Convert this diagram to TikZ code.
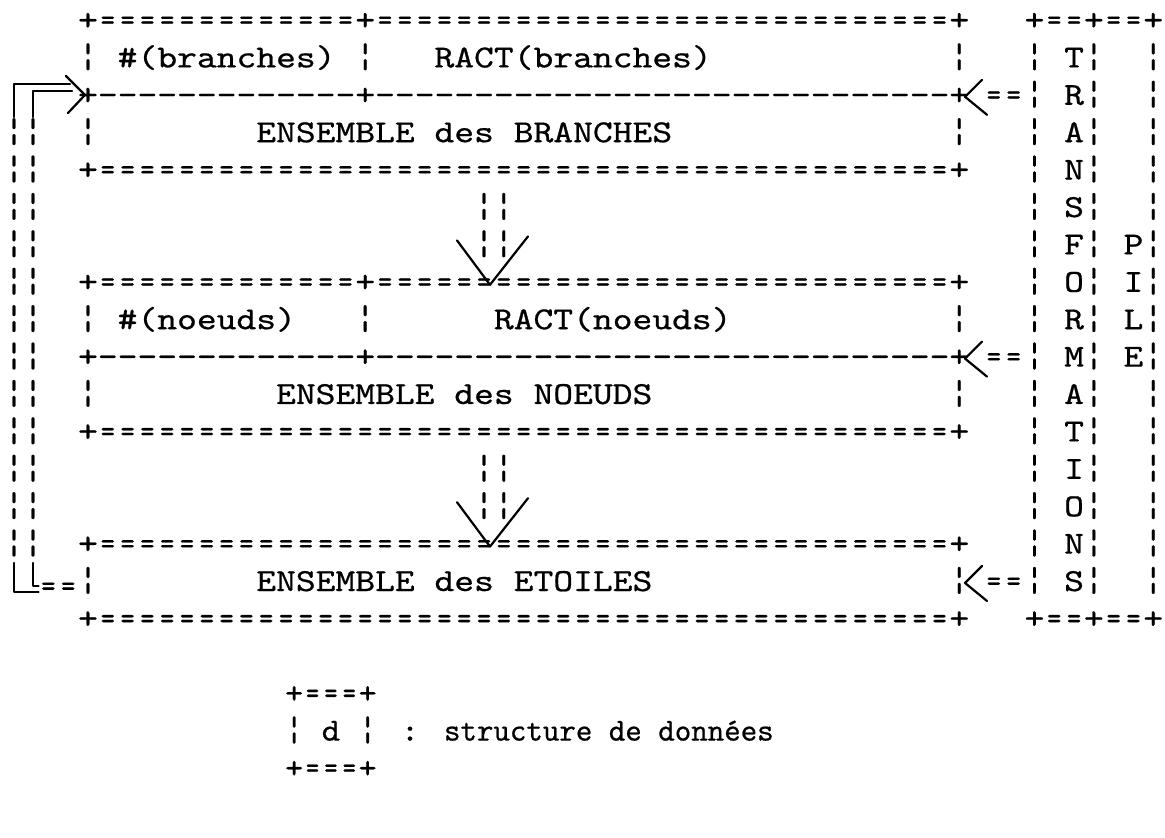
\documentclass[tikz,border=0pt]{standalone}
\usepackage{fontspec}
\usepackage{graphicx}
\setmonofont{lmmono10-regular.otf}[FakeBold=0.6]
\newcommand\colx[1]{78.1+19.8*(#1)}
\newcommand\rowy[1]{30+37.4*(#1)}
\newcommand\rep[2]{\foreach\k in {1,...,#1}{#2}}
\newcommand\ceq{\makebox[0.525em]{\scalebox{0.72}[1]{=}}}
\newcommand\chy{\makebox[0.525em]{-}}
\newcommand\bb{\scalebox{1}[1.08]{¦}}
\newcommand\sq[1]{\scalebox{1}[0.85]{#1}}
\newcommand\sqb[1]{\scalebox{1}[0.92]{#1}}
\newcommand\sqc[1]{\scalebox{1}[1.02]{#1}}
\begin{document}
\begin{tikzpicture}[x=0.5pt,y=-0.5pt,
  txt/.style={inner sep=0pt,outer sep=0pt,anchor=base west,font=\ttfamily\fontsize{18.86pt}{20pt}\selectfont},
  lgdbox/.style={txt,font=\ttfamily\fontsize{17.5pt}{19pt}\selectfont},
  lgd/.style={txt,font=\ttfamily\fontsize{15.7pt}{17pt}\selectfont},
  bar/.style={txt,anchor=base},
  hand/.style={line width=1.1pt,line cap=round,line join=round}]
\useasboundingbox (0,0) rectangle (1165,838);

% ---------- box 1 : branches
\node[txt] (b1top) at ({\colx{0}},{\rowy{0}}) {\sq{+\rep{13}{\ceq}+\rep{29}{\ceq}+}};
\node[txt] (b1l1) at ({\colx{0}},{\rowy{1}}) {\sq{\bb{} \#(branches) \bb}};
\node[txt] (b1ract) at ({\colx{18}},{\rowy{1}}) {\sq{RACT(branches)}};
\node[txt] (b1r1) at ({\colx{44}},{\rowy{1}}) {\sq{\bb}};
\node[txt] (b1mid) at ({\colx{0}},{\rowy{2}}) {\sq{+\rep{13}{\chy}+\rep{29}{\chy}+}};
\node[txt] (b1l3) at ({\colx{0}},{\rowy{3}}) {\sq{\bb}};
\node[txt] (b1name) at ({\colx{9}},{\rowy{3}}) {\sq{ENSEMBLE des BRANCHES}};
\node[txt] (b1r3) at ({\colx{44}},{\rowy{3}}) {\sq{\bb}};
\node[txt] (b1bot) at ({\colx{0}},{\rowy{4}}) {\sq{+\rep{43}{\ceq}+}};

% ---------- box 2 : noeuds
\node[txt] (b2top) at ({\colx{0}},{\rowy{7}}) {\sq{+\rep{13}{\ceq}+\rep{29}{\ceq}+}};
\node[txt] (b2l1) at ({\colx{0}},{\rowy{8}}) {\sq{\bb{} \#(noeuds)}};
\node[txt] (b2d1) at ({\colx{14}},{\rowy{8}}) {\sq{\bb}};
\node[txt] (b2ract) at ({\colx{21}},{\rowy{8}}) {\sq{RACT(noeuds)}};
\node[txt] (b2r1) at ({\colx{44}},{\rowy{8}}) {\sq{\bb}};
\node[txt] (b2mid) at ({\colx{0}},{\rowy{9}}) {\sq{+\rep{13}{\chy}+\rep{29}{\chy}+}};
\node[txt] (b2l3) at ({\colx{0}},{\rowy{10}}) {\sq{\bb}};
\node[txt] (b2name) at ({\colx{10}},{\rowy{10}}) {\sq{ENSEMBLE des NOEUDS}};
\node[txt] (b2r3) at ({\colx{44}},{\rowy{10}}) {\sq{\bb}};
\node[txt] (b2bot) at ({\colx{0}},{\rowy{11}}) {\sq{+\rep{43}{\ceq}+}};

% ---------- box 3 : etoiles
\node[txt] (b3top) at ({\colx{0}},{\rowy{14}}) {\sq{+\rep{43}{\ceq}+}};
\node[txt] (b3l) at ({\colx{0}},{\rowy{15}}) {\sq{\bb}};
\node[txt] (b3name) at ({\colx{9}},{\rowy{15}}) {\sq{ENSEMBLE des ETOILES}};
\node[txt] (b3r) at ({\colx{44}},{\rowy{15}}) {\sq{\bb}};
\node[txt] (b3bot) at ({\colx{0}},{\rowy{16}}) {\sq{+\rep{43}{\ceq}+}};

% ---------- right box : transformations / pile
\node[txt] (p0) at ({\colx{47.8}},{\rowy{0}}) {\sq{+\ceq\ceq+\ceq\ceq+}};
\node[txt] (p16) at ({\colx{47.8}},{\rowy{16}}) {\sq{+\ceq\ceq+\ceq\ceq+}};
\foreach \rw/\ltr in {1/T,2/R,3/A,4/N,5/S,6/F,7/O,8/R,9/M,10/A,11/T,12/I,13/O,14/N,15/S}{
  \node[txt] (tl\rw) at ({\colx{47.8}},{\rowy{\rw}}) {\sq{\bb{} \ltr\bb}};
  \node[txt] (tr\rw) at ({\colx{53.8}},{\rowy{\rw}}) {\sq{\bb}};
}
\foreach \rw/\ltr in {6/P,7/I,8/L,9/E}{
  \node[txt] (pl\rw) at ({\colx{52.8}},{\rowy{\rw}}) {\sq{\ltr}};
}

% ---------- arrows from the right box  <==
\foreach \rw in {2,9,15}{
  \node[txt] (eq\rw) at ({\colx{45.75}},{\rowy{\rw}}) {\sq{\ceq\ceq}};
  \coordinate (au\rw) at (982,{\rowy{\rw}-25});
  \coordinate (at\rw) at (965,{\rowy{\rw}-8});
  \coordinate (al\rw) at (987,{\rowy{\rw}+10});
  \draw[hand] (au\rw) -- (at\rw) -- (al\rw);
}

% ---------- vertical links between boxes
\node[txt] (c1a) at ({\colx{20}},{\rowy{5}}) {\sq{\bb\bb}};
\node[txt] (c1b) at ({\colx{20}},{\rowy{6}}) {\sq{\bb\bb}};
\node[txt] (c2a) at ({\colx{20}},{\rowy{12}}) {\sq{\bb\bb}};
\node[txt] (c2b) at ({\colx{20}},{\rowy{13}}) {\sq{\bb\bb}};
\foreach \rw/\nx in {6/7,13/14}{
  \coordinate (vl\rw) at (457,{\rowy{\rw}-14});
  \coordinate (vt\rw) at (490,{\rowy{\nx}-7});
  \coordinate (vr\rw) at (528,{\rowy{\rw}-18});
  \draw[hand] (vl\rw) -- (vt\rw) -- (vr\rw);
}

% ---------- loop on the left : etoiles -> branches
\foreach \rw in {3,...,14}{
  \node[bar] (lo\rw) at (14,{\rowy{\rw}}) {\sq{\bb}};
  \node[bar] (li\rw) at (33,{\rowy{\rw}}) {\sq{\bb}};
}
\node[txt] (leq) at ({\colx{-2}},{\rowy{15}+5}) {\sq{\ceq\ceq}};
\coordinate (otop) at (14,84);
\coordinate (itop) at (33,91);
\coordinate (otopend) at (70,84);
\coordinate (itopend) at (72,91);
\draw[hand] (14,117) -- (otop) -- (otopend);
\draw[hand] (33,117) -- (itop) -- (itopend);
\coordinate (tipup) at (66,76);
\coordinate (tip) at (85,95);
\coordinate (tiplo) at (68,113);
\draw[hand] (tipup) -- (tip) -- (tiplo);
\coordinate (obot) at (14,592);
\coordinate (ibot) at (33,586);
\draw[hand] (14,563) -- (obot) -- (leq.west |- obot);
\draw[hand] (33,563) -- (ibot) -- (leq.west |- ibot);

% ---------- legend
\node[lgdbox] (lg1) at (285,{\rowy{18}}) {\sqb{+\ceq\ceq\ceq+}};
\node[lgdbox] (lg2) at (285,{\rowy{19}}) {\sqb{\bb{} d \bb}};
\node[lgdbox,anchor=base] (lg2c) at (410,{\rowy{19}}) {\sqb{:}};
\node[lgd] (lg2t) at (444,{\rowy{19}}) {\sqc{structure de données}};
\node[lgdbox] (lg3) at (285,{\rowy{20}}) {\sqb{+\ceq\ceq\ceq+}};
\end{tikzpicture}
\end{document}
